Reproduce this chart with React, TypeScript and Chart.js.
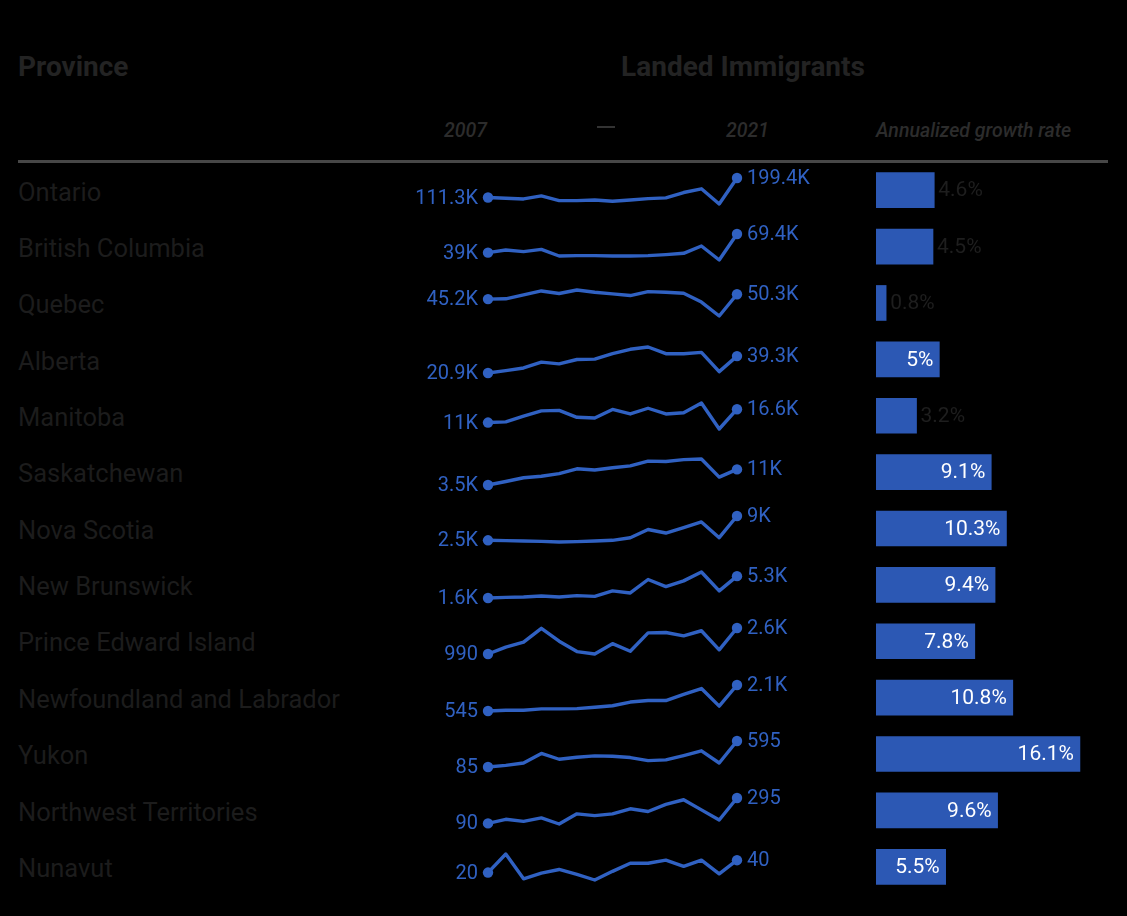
import React, { useEffect, useRef } from "react";
import { Chart, registerables } from "chart.js";

Chart.register(...registerables);

// ---------- DATA ----------
const years = ["2007", "2008", "2009", "2010", "2011", "2012", "2013", "2014", "2015", "2016", "2017", "2018", "2019", "2020", "2021"];

const provinces = [
  "Ontario",
  "British Columbia",
  "Quebec",
  "Alberta",
  "Manitoba",
  "Saskatchewan",
  "Nova Scotia",
  "New Brunswick",
  "Prince Edward Island",
  "Newfoundland and Labrador",
  "Yukon",
  "Northwest Territories",
  "Nunavut",
];

const ontario = [111300, 107900, 104900, 118600, 97300, 97300, 100300, 94200, 100300, 106400, 109500, 133900, 150600, 82000, 199400];
const britishColumbia = [39000, 43300, 40600, 44400, 33500, 34100, 34100, 33500, 33500, 34100, 35700, 37900, 49800, 27000, 69400];
const quebec = [45200, 45500, 49600, 53700, 51000, 54700, 52300, 50600, 48900, 53000, 52300, 51300, 42100, 27500, 50300];
const alberta = [20900, 23500, 26400, 32700, 30800, 35600, 36000, 41900, 46700, 49200, 41900, 41900, 43400, 22400, 39300];
const manitoba = [11000, 11300, 13700, 15900, 16100, 13200, 12900, 16500, 14600, 17000, 14600, 15100, 19200, 8300, 16600];
const saskatchewan = [3500, 5200, 7000, 7700, 9000, 11300, 10700, 11800, 12700, 15000, 14800, 15700, 16000, 7300, 11000];
const novaScotia = [2500, 2410, 2320, 2230, 2050, 2140, 2320, 2500, 3200, 5400, 4450, 5900, 7400, 3200, 9000];
const newBrunswick = [1600, 1710, 1770, 1940, 1770, 2000, 1880, 2800, 2450, 4730, 3530, 4500, 6000, 2800, 5300];
const princeEdwardIsland = [990, 1420, 1720, 2580, 1780, 1140, 990, 1630, 1160, 2300, 2320, 2110, 2430, 1250, 2600];
const newfoundland = [545, 590, 590, 670, 670, 690, 770, 860, 1080, 1170, 1170, 1540, 1890, 835, 2100];
const yukon = [85, 118, 164, 350, 237, 277, 303, 297, 270, 211, 224, 310, 403, 164, 595];
const northwestTerritories = [90, 123, 106, 134, 85, 167, 153, 167, 208, 186, 243, 281, 199, 117, 295];
const nunavut = [20, 50, 10, 19, 25, 17, 8, 22, 35, 35, 40, 30, 40, 18, 40];

const growthRates = [4.6, 4.5, 0.8, 5, 3.2, 9.1, 10.3, 9.4, 7.8, 10.8, 16.1, 9.6, 5.5];

const series = [
  ontario,
  britishColumbia,
  quebec,
  alberta,
  manitoba,
  saskatchewan,
  novaScotia,
  newBrunswick,
  princeEdwardIsland,
  newfoundland,
  yukon,
  northwestTerritories,
  nunavut,
];

// ---------- STYLE ----------
const LINE_BLUE = "#3061c2";
const BAR_BLUE = "#2c58b4";
const FONT = "Roboto, 'Noto Sans', sans-serif";
const ROW_MID0 = 190.5;
const ROW_H = 56.37;

function fmt(v: number): string {
  if (v >= 1000) {
    const k = Math.round(v / 100) / 10;
    return (Number.isInteger(k) ? k.toFixed(0) : k.toFixed(1)) + "K";
  }
  return String(v);
}

const endLabels = {
  id: "endLabels",
  afterDatasetsDraw(chart: any) {
    const meta = chart.getDatasetMeta(0);
    const pts = meta.data;
    const d = chart.data.datasets[0].data as number[];
    const last = d.length - 1;
    const ctx = chart.ctx;
    ctx.save();
    ctx.font = `20px ${FONT}`;
    ctx.fillStyle = LINE_BLUE;
    ctx.textBaseline = "middle";
    ctx.textAlign = "right";
    ctx.fillText(fmt(d[0]), pts[0].x - 10, pts[0].y + 1);
    ctx.textAlign = "left";
    ctx.fillText(fmt(d[last]), pts[last].x + 10, pts[last].y + 1);
    ctx.restore();
  },
};

const barLabels = {
  id: "barLabels",
  afterDatasetsDraw(chart: any) {
    const meta = chart.getDatasetMeta(0);
    const d = chart.data.datasets[0].data as number[];
    const ctx = chart.ctx;
    ctx.save();
    ctx.font = `21px ${FONT}`;
    ctx.textBaseline = "middle";
    meta.data.forEach((bar: any, i: number) => {
      const text = `${d[i]}%`;
      if (d[i] >= 5) {
        ctx.fillStyle = "#ffffff";
        ctx.textAlign = "right";
        ctx.fillText(text, bar.x - 6, bar.y + 1);
      } else {
        ctx.fillStyle = "#1e1e1e";
        ctx.textAlign = "left";
        ctx.fillText(text, bar.x + 4, bar.y + 1);
      }
    });
    ctx.restore();
  },
};

function Sparkline({ data, mid }: { data: number[]; mid: number }) {
  const ref = useRef<HTMLCanvasElement>(null);
  useEffect(() => {
    if (!ref.current) return;
    const n = data.length;
    const chart = new Chart(ref.current, {
      type: "line",
      data: {
        labels: years,
        datasets: [
          {
            data,
            borderColor: LINE_BLUE,
            borderWidth: 3.4,
            pointRadius: data.map((_, i) => (i === 0 || i === n - 1 ? 5.2 : 0)),
            pointBackgroundColor: LINE_BLUE,
            pointBorderWidth: 0,
            tension: 0,
            clip: false as any,
            borderJoinStyle: "round",
          },
        ],
      },
      options: {
        responsive: false,
        animation: false,
        events: [],
        layout: { padding: { left: 88, right: 123, top: 15, bottom: 15 } },
        plugins: { legend: { display: false }, tooltip: { enabled: false } },
        scales: {
          x: { display: false },
          y: { display: false, min: Math.min(...data), max: Math.max(...data) },
        },
      },
      plugins: [endLabels],
    });
    return () => chart.destroy();
  }, []);
  return (
    <canvas
      ref={ref}
      width={460}
      height={56}
      style={{ position: "absolute", left: 400, top: Math.round(mid - 28), width: 460, height: 56 }}
    />
  );
}

function Bars() {
  const ref = useRef<HTMLCanvasElement>(null);
  useEffect(() => {
    if (!ref.current) return;
    const chart = new Chart(ref.current, {
      type: "bar",
      data: {
        labels: provinces,
        datasets: [
          {
            data: growthRates,
            backgroundColor: BAR_BLUE,
            borderWidth: 0,
            barThickness: 35,
          },
        ],
      },
      options: {
        indexAxis: "y",
        responsive: false,
        animation: false,
        events: [],
        layout: { padding: 0 },
        plugins: { legend: { display: false }, tooltip: { enabled: false } },
        scales: {
          x: { display: false, min: 0, max: 18 },
          y: { display: false },
        },
      },
      plugins: [barLabels],
    });
    return () => chart.destroy();
  }, []);
  return (
    <canvas
      ref={ref}
      width={228}
      height={733}
      style={{ position: "absolute", left: 876, top: 162, width: 228, height: 733 }}
    />
  );
}

function Text({
  children,
  left,
  mid,
  size,
  weight = 400,
  italic = false,
  color,
  align = "left",
  width,
}: any) {
  const h = 50;
  const style: React.CSSProperties = {
    position: "absolute",
    top: mid - h / 2,
    height: h,
    lineHeight: `${h}px`,
    fontSize: size,
    fontWeight: weight,
    fontStyle: italic ? "italic" : "normal",
    color,
    whiteSpace: "nowrap",
    fontFamily: FONT,
    textAlign: align,
  };
  if (align === "right") {
    style.left = left - (width || 300);
    style.width = width || 300;
  } else if (align === "center") {
    style.left = left - (width || 400) / 2;
    style.width = width || 400;
  } else {
    style.left = left;
  }
  return <div style={style}>{children}</div>;
}

export default function App() {
  return (
    <div
      style={{
        position: "absolute",
        left: 0,
        top: 0,
        width: 1127,
        height: 916,
        background: "#000000",
        overflow: "hidden",
        fontFamily: FONT,
      }}
    >
      <Text left={18} mid={67} size={28} weight={700} color="#232323">
        Province
      </Text>
      <Text left={743} mid={67} size={28} weight={700} color="#232323" align="center">
        Landed Immigrants
      </Text>
      <Text left={487} mid={131} size={19.5} weight={500} italic color="#2c2c2c" align="right">
        2007
      </Text>
      <div
        style={{ position: "absolute", left: 597, top: 126, width: 18, height: 2, background: "#333333" }}
      />
      <Text left={726} mid={131} size={19.5} weight={500} italic color="#2c2c2c">
        2021
      </Text>
      <Text left={876} mid={131} size={19.5} weight={500} italic color="#2c2c2c">
        Annualized growth rate
      </Text>
      <div
        style={{ position: "absolute", left: 18, top: 160, width: 1090, height: 3, background: "#474747" }}
      />
      {provinces.map((p, i) => (
        <Text key={p} left={18} mid={ROW_MID0 + ROW_H * i + 1} size={25.5} color="#1c1c1c">
          {p}
        </Text>
      ))}
      {series.map((s, i) => (
        <Sparkline key={provinces[i]} data={s} mid={ROW_MID0 + ROW_H * i} />
      ))}
      <Bars />
    </div>
  );
}
